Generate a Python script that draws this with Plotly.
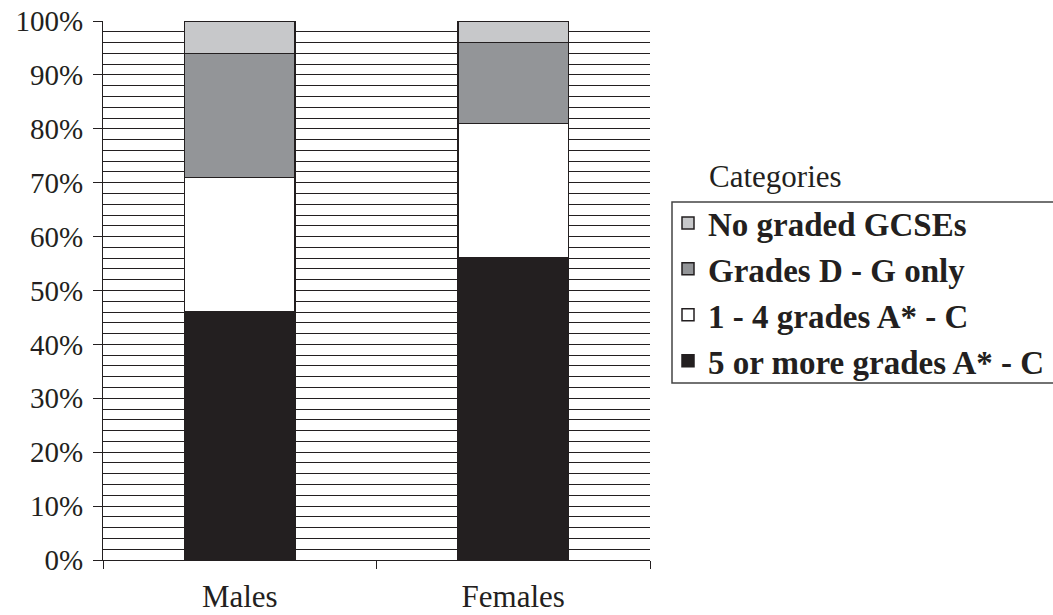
import plotly.graph_objects as go

categories = ["Males", "Females"]
series_names = ["5 or more grades A* - C", "1 - 4 grades A* - C", "Grades D - G only", "No graded GCSEs"]
five_plus = [46, 56]
one_to_four = [25, 25]
d_to_g = [23, 15]
no_graded = [6, 4]
series_values = [five_plus, one_to_four, d_to_g, no_graded]
series_colors = ["#231f20", "#ffffff", "#939598", "#c7c8ca"]
y_tick_vals = [0, 10, 20, 30, 40, 50, 60, 70, 80, 90, 100]
y_tick_text = [f"{v}%" for v in y_tick_vals]

FONT = "Liberation Serif"
INK = "#231f20"

W, H = 1053, 615
ML, MR, MT, MB = 103, 403, 21, 55
PW = W - ML - MR
PH = H - MT - MB

def px_x(x):
    return (x - ML) / PW

def px_y(y):
    return 1 - (y - MT) / PH

fig = go.Figure()
for name, vals, col in zip(series_names, series_values, series_colors):
    fig.add_trace(go.Bar(
        x=categories, y=vals, name=name,
        marker=dict(color=col, line=dict(color=INK, width=1.5)),
    ))

fig.update_layout(
    width=W, height=H,
    margin=dict(l=ML, r=MR, t=MT, b=MB, autoexpand=False),
    barmode="stack",
    bargap=0.595,
    plot_bgcolor="white", paper_bgcolor="white",
    font=dict(family=FONT, size=31, color=INK),
    showlegend=True,
    legend=dict(
        x=px_x(668), y=px_y(195), xanchor="left", yanchor="top",
        traceorder="reversed",
        font=dict(family=FONT, size=33, color=INK, weight="bold"),
        bgcolor="rgba(0,0,0,0)", borderwidth=0,
        itemclick=False,
    ),
    xaxis=dict(
        type="category", showline=True, linecolor=INK, linewidth=1,
        ticks="outside", ticklen=8, tickcolor=INK, tickwidth=1,
        tickson="boundaries", showgrid=False, ticklabelstandoff=9,
        tickfont=dict(family=FONT, size=31, color=INK),
    ),
    yaxis=dict(
        range=[0, 100], tickvals=y_tick_vals, ticktext=y_tick_text,
        showline=True, linecolor=INK, linewidth=1,
        ticks="outside", ticklen=9, tickcolor=INK, tickwidth=1,
        ticklabelstandoff=4,
        showgrid=True, gridcolor=INK, gridwidth=1,
        minor=dict(dtick=2, showgrid=True, gridcolor=INK, gridwidth=1, ticks=""),
        zeroline=False,
        tickfont=dict(family=FONT, size=29, color=INK),
    ),
    annotations=[dict(
        text="Categories", xref="paper", yref="paper",
        x=px_x(707), y=px_y(177), xanchor="left", yanchor="middle",
        showarrow=False, font=dict(family=FONT, size=31, color=INK),
    )],
    shapes=[dict(
        type="rect", xref="paper", yref="paper",
        x0=px_x(672), x1=px_x(1100), y0=px_y(383), y1=px_y(202),
        line=dict(color="#444444", width=1.5), fillcolor="rgba(0,0,0,0)",
    )],
)

fig.write_html(
    "out.html",
    config={"displayModeBar": False},
    post_script="document.body.style.margin='0';document.body.style.overflow='hidden';",
)
